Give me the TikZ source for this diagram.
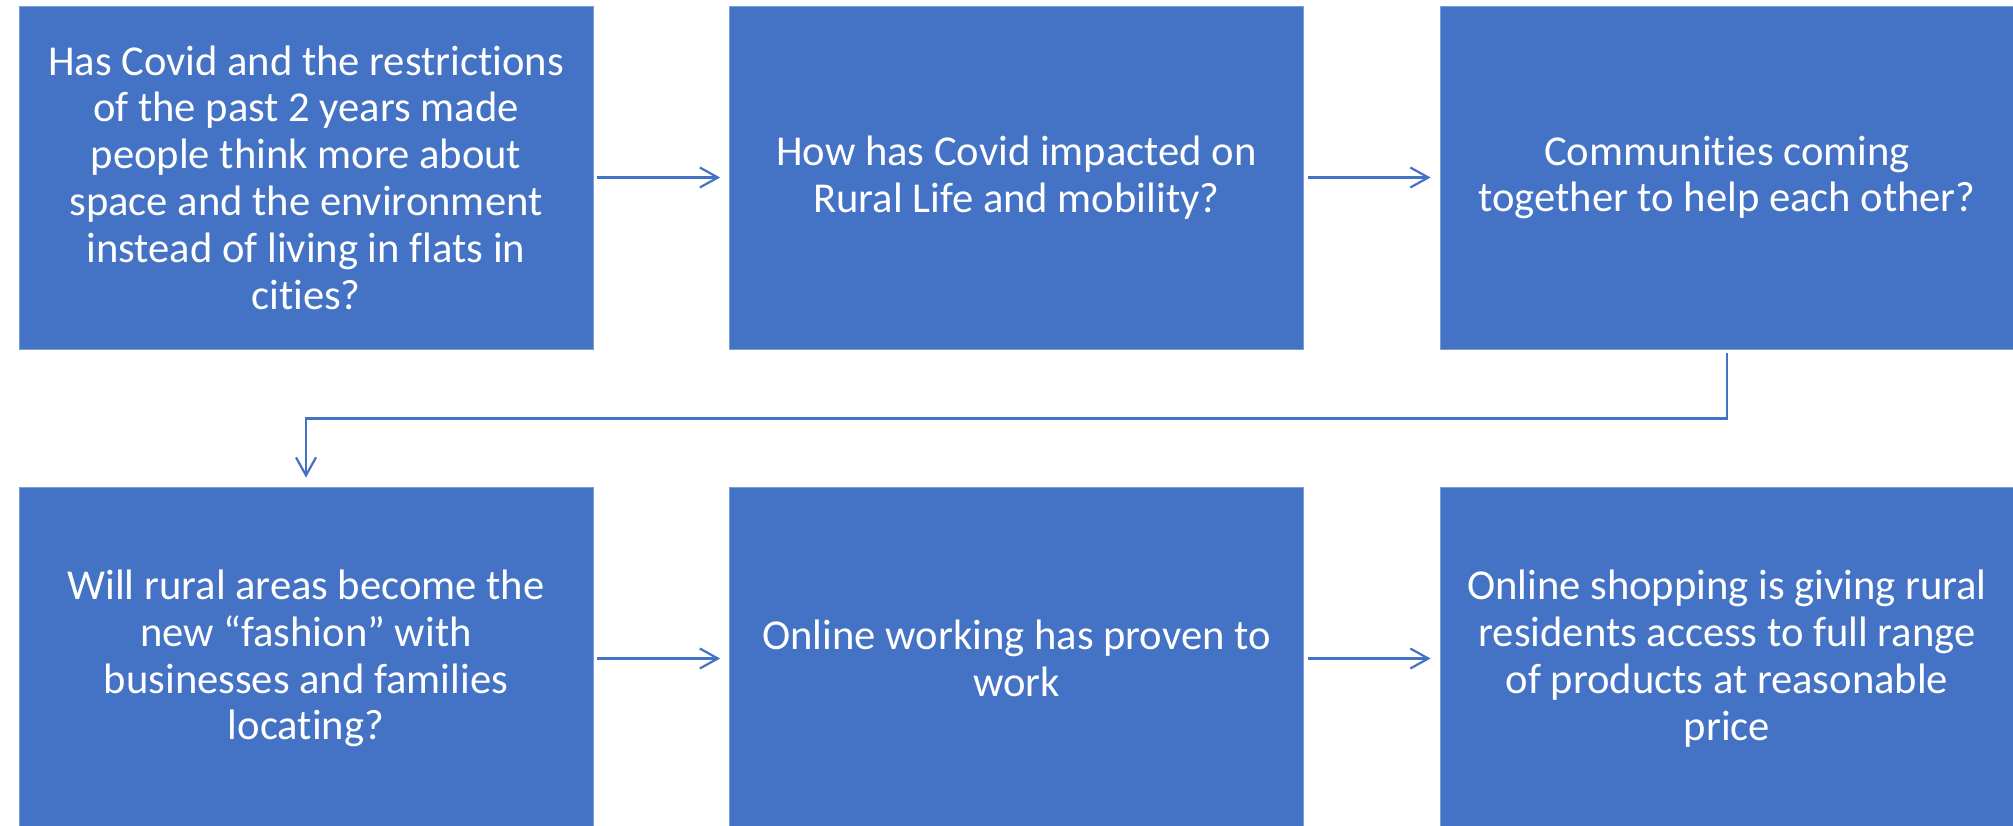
\documentclass[tikz,border=0pt]{standalone}
\usepackage{fontspec}
\setmainfont{Carlito}[Ligatures=NoCommon]
\usetikzlibrary{arrows.meta}
\definecolor{officeblue}{HTML}{4472C4}

\begin{document}
\begin{tikzpicture}[x=0.5pt,y=-0.5pt,
  box/.style={fill=officeblue,draw=officeblue!70!white,line width=0.4pt,text=white,
    minimum width=287pt,minimum height=171.5pt,inner sep=0pt,align=center,
    font=\fontsize{21.3}{23.4}\selectfont},
  link/.style={draw=officeblue,line width=1.1pt,-{Straight Barb[length=9pt,width=10pt]},
    shorten <=2pt,shorten >=4.5pt}]

\clip (0,0) rectangle (2013,825);
\fill[white] (0,0) rectangle (2013,825);

\node[box] (a1) at (306,177.5) {Has Covid and the restrictions\\of the past 2 years made\\people think more about\\space and the environment\\instead of living in flats in\\cities?};
\node[box] (a2) at (1016.5,177.5) {How has Covid impacted on\\Rural Life and mobility?};
\node[box] (a3) at (1727,177.5) {Communities coming\\together to help each other?};
\node[box] (b1) at (306,658.5) {Will rural areas become the\\new “fashion” with\\businesses and families\\locating?};
\node[box] (b2) at (1016.5,658.5) {Online working has proven to\\work};
\node[box] (b3) at (1727,658.5) {Online shopping is giving rural\\residents access to full range\\of products at reasonable\\price};

\path[link] (a1) edge (a2) (a2) edge (a3) (b1) edge (b2) (b2) edge (b3);
\draw[link] (a3.south) -- ++(0,69) -| (b1.north);

\end{tikzpicture}
\end{document}
